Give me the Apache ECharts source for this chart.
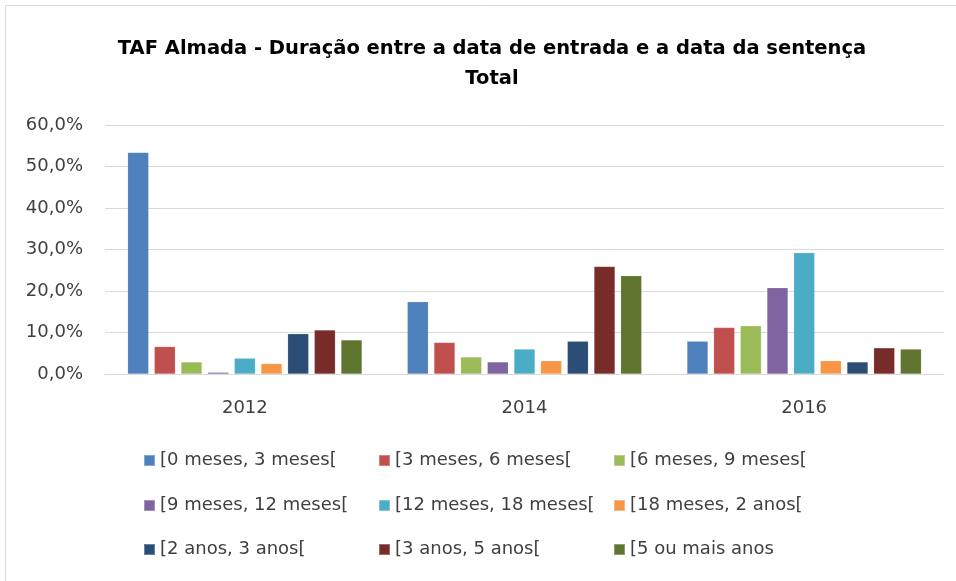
<!DOCTYPE html>
<html>
<head>
<meta charset="utf-8">
<script src="https://cdn.jsdelivr.net/npm/echarts@6/dist/echarts.min.js"></script>
<style>
  html, body { margin: 0; padding: 0; background: #fff; }
  #chart { width: 956px; height: 581px; }
</style>
</head>
<body>
<div id="chart"></div>
<script>
var years = ['2012', '2014', '2016'];
var seriesNames = [
    '[0 meses, 3 meses[', '[3 meses, 6 meses[', '[6 meses, 9 meses[',
    '[9 meses, 12 meses[', '[12 meses, 18 meses[', '[18 meses, 2 anos[',
    '[2 anos, 3 anos[', '[3 anos, 5 anos[', '[5 ou mais anos'
];
var colors = ['#4F81BD', '#C0504D', '#9BBB59', '#8064A2', '#4BACC6', '#F79646', '#2C4D75', '#772C2A', '#5F7530'];

// percentagens por ano (2012, 2014, 2016)
var v0a3m = [53.4, 17.4, 7.9];
var v3a6m = [6.6, 7.6, 11.2];
var v6a9m = [2.9, 4.1, 11.6];
var v9a12m = [0.4, 2.9, 20.8];
var v12a18m = [3.8, 6.0, 29.2];
var v18ma2a = [2.5, 3.2, 3.2];
var v2a3a = [9.7, 7.9, 2.9];
var v3a5a = [10.6, 25.9, 6.3];
var v5mais = [8.2, 23.7, 6.0];
var values = [v0a3m, v3a6m, v6a9m, v9a12m, v12a18m, v18ma2a, v2a3a, v3a5a, v5mais];

var font = 'DejaVu Sans';

var series = [];
for (let i = 0; i < seriesNames.length; i++) {
    series.push({
        name: seriesNames[i],
        type: 'bar',
        data: values[i],
        barWidth: 21,
        barGap: '27%',
        itemStyle: {
            color: colors[i],
            borderColor: 'rgba(255,255,255,0.3)',
            borderWidth: 0.5
        }
    })
}

// legenda em grelha 3x3 (uma caixa por item)
var legCols = [143, 378, 613];
var legRows = [451.5, 496.5, 540.5];
var legends = [];
for (let i = 0; i < seriesNames.length; i++) {
    legends.push({
        left: legCols[i % 3],
        top: legRows[Math.floor(i / 3)],
        padding: 0,
        itemWidth: 11,
        itemHeight: 11,
        icon: 'rect',
        textStyle: { fontFamily: font, fontSize: 18, color: '#404040' },
        data: [seriesNames[i]]
    })
}

var myChart = echarts.init(document.getElementById('chart'));
option = {
    backgroundColor: '#fff',
    animation: false,
    title: {
        text: 'TAF Almada - Duração entre a data de entrada e a data da sentença\nTotal',
        left: 487,
        textAlign: 'center',
        top: 29,
        textStyle: { fontFamily: font, fontSize: 19.5, fontWeight: 'bold', color: '#000', lineHeight: 30 }
    },
    legend: legends,
    grid: { left: 105, right: 12, top: 125, bottom: 207 },
    xAxis: {
        type: 'category',
        data: years,
        axisLine: { lineStyle: { color: '#d9d9d9' } },
        axisTick: { show: false },
        axisLabel: { fontFamily: font, fontSize: 18, color: '#404040', margin: 25 }
    },
    yAxis: {
        type: 'value',
        min: 0,
        max: 60,
        interval: 10,
        axisLine: { show: false },
        axisTick: { show: false },
        splitLine: { lineStyle: { color: '#d9d9d9' } },
        axisLabel: {
            fontFamily: font, fontSize: 18, color: '#404040', margin: 22,
            formatter: function (v) { return v.toFixed(1).replace('.', ',') + '%' }
        }
    },
    graphic: [{
        type: 'rect',
        shape: { x: 5.5, y: 5.5, width: 960, height: 600 },
        style: { fill: 'none', stroke: '#d9d9d9', lineWidth: 1 },
        silent: true
    }],
    series: series
};
myChart.setOption(option);
</script>
</body>
</html>
